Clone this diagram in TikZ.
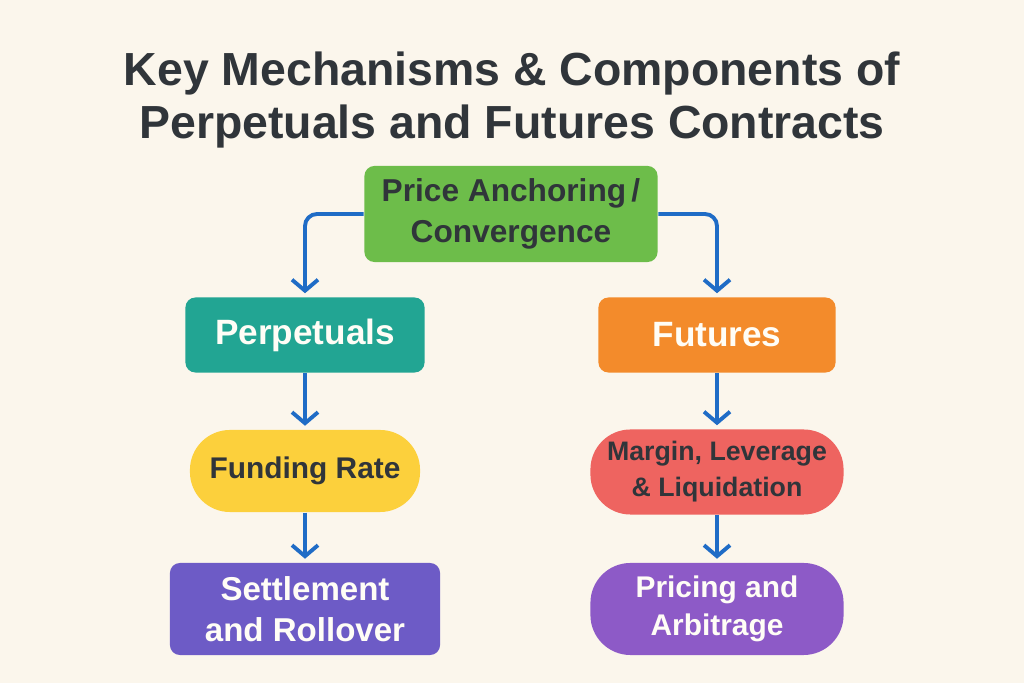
\documentclass[tikz,border=0pt]{standalone}
\usepackage{fontspec}
\setmainfont{Liberation Sans}
\usetikzlibrary{arrows.meta}
\definecolor{bgcream}{HTML}{FBF6EC}
\definecolor{inkdark}{HTML}{30353A}
\definecolor{inklight}{HTML}{FFFDF6}
\definecolor{linkblue}{HTML}{1F6CC6}
\definecolor{anchorgreen}{HTML}{6DBD4A}
\definecolor{perpteal}{HTML}{22A593}
\definecolor{futorange}{HTML}{F38B2B}
\definecolor{fundyellow}{HTML}{FCD03C}
\definecolor{margred}{HTML}{EE6460}
\definecolor{settpurple}{HTML}{6D5BC6}
\definecolor{pricpurple}{HTML}{8D5AC7}
\begin{document}
\begin{tikzpicture}
[x=0.01cm,y=-0.01cm,
 box/.style={rectangle,rounded corners=0.1cm,align=center,inner sep=0pt,
   font=\bfseries\fontsize{9}{11.5}\selectfont},
 pill/.style={box,rounded corners=0.4cm},
 link/.style={draw=linkblue,line width=1.1pt,rounded corners=0.12cm,
   -{Straight Barb[length=1.1mm,width=2.6mm,line width=1.1pt]},shorten >=1pt}]
% background and frame
\fill[bgcream] (0,0) rectangle (1024,683);
\useasboundingbox (0,0) rectangle (1024,683);
% title
\node[text=inkdark,align=center,font=\bfseries\fontsize{13.2}{15.2}\selectfont] (title) at (512,100)
  {Key Mechanisms \& Components of\\Perpetuals and Futures Contracts};
% top node
\node[box,fill=anchorgreen,text=inkdark,minimum width=2.93cm,minimum height=0.96cm] (anchor) at (511,214)
  {Price Anchoring\,/\\Convergence};
% two branches
\node[box,fill=perpteal,text=inklight,minimum width=2.39cm,minimum height=0.75cm,
  font=\bfseries\fontsize{10}{12}\selectfont] (perp) at (305,335) {Perpetuals};
\node[box,fill=futorange,text=inklight,minimum width=2.37cm,minimum height=0.75cm,
  font=\bfseries\fontsize{10}{12}\selectfont] (fut) at (717,335) {Futures};
\node[pill,fill=fundyellow,text=inkdark,minimum width=2.30cm,minimum height=0.82cm,
  font=\bfseries\fontsize{8.5}{11}\selectfont] (fund) at (305,471) {Funding Rate};
\node[pill,fill=margred,text=inkdark,minimum width=2.53cm,minimum height=0.85cm,
  font=\bfseries\fontsize{7.6}{10.2}\selectfont] (marg) at (717,472)
  {Margin, Leverage\\\& Liquidation};
\node[box,fill=settpurple,text=inklight,minimum width=2.70cm,minimum height=0.92cm,
  font=\bfseries\fontsize{9.4}{11.5}\selectfont] (sett) at (305,609)
  {Settlement\\and Rollover};
\node[pill,fill=pricpurple,text=inklight,minimum width=2.53cm,minimum height=0.92cm,
  font=\bfseries\fontsize{8.5}{11}\selectfont] (pric) at (717,609)
  {Pricing and\\Arbitrage};
% connectors
\draw[link] (anchor.west) -| (perp.north);
\draw[link] (anchor.east) -| (fut.north);
\draw[link] (perp) to (fund);
\draw[link] (fund) to (sett);
\draw[link] (fut) to (marg);
\draw[link] (marg) to (pric);
\end{tikzpicture}
\end{document}
